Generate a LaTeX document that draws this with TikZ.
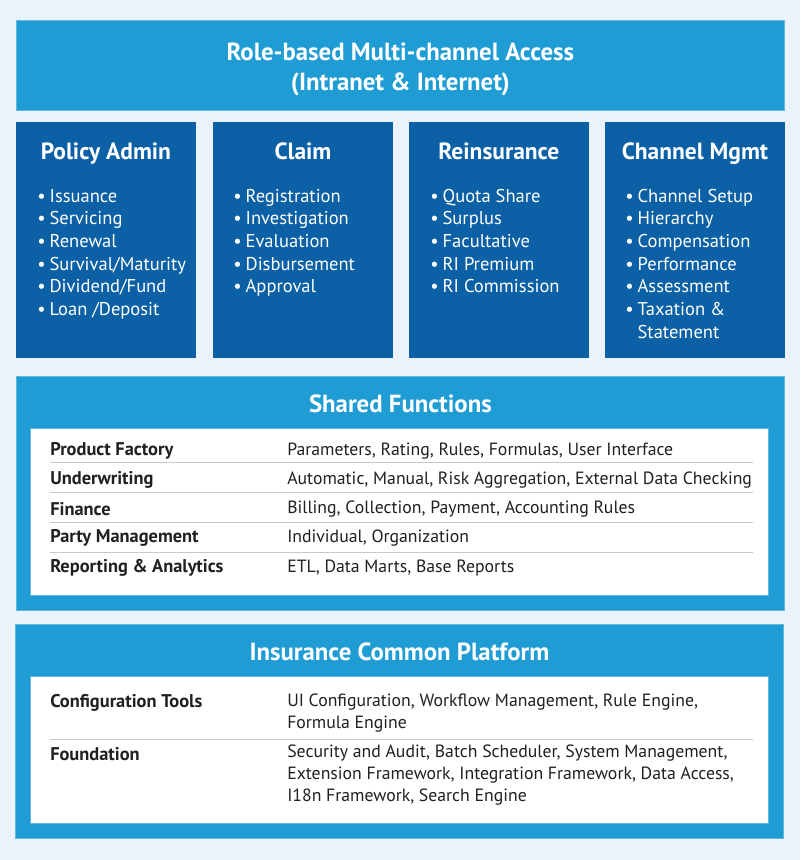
\documentclass[tikz,border=0pt]{standalone}
\usepackage{fontspec}
\setmainfont{PT Sans}
\usepackage{xcolor}
\usepackage{tikz}
\usetikzlibrary{positioning,calc}
\definecolor{PageBg}{HTML}{EAF2FB}
\definecolor{BannerBlue}{HTML}{1F9CD3}
\definecolor{ModuleBlue}{HTML}{0B60A6}
\definecolor{PanelEdge}{HTML}{62B6E2}
\definecolor{RuleGrey}{HTML}{C9C9C9}
\definecolor{TextDark}{HTML}{231F20}

\begin{document}
\begin{tikzpicture}[x=0.75pt,y=-0.75pt,
    banner/.style={fill=BannerBlue, draw=PanelEdge, line width=0.6pt, anchor=north west,
      inner sep=0pt, minimum width=576pt, text=white, align=center},
    module/.style={fill=ModuleBlue, anchor=north west, inner sep=0pt,
      minimum width=134.5pt, minimum height=177pt},
    modtitle/.style={anchor=base, text=white, font=\bfseries\fontsize{17.6}{20}\selectfont},
    sectitle/.style={anchor=base, text=white, font=\bfseries\fontsize{18.6}{21}\selectfont},
    modlist/.style={anchor=north west, inner sep=0pt, text=white,
      font=\fontsize{13.9}{17}\selectfont},
    panel/.style={fill=white, draw=PanelEdge, line width=0.6pt, anchor=north west,
      inner sep=0pt, minimum width=553.5pt},
    rowkey/.style={anchor=west, inner sep=0pt, text=TextDark, font=\bfseries\fontsize{13.8}{16}\selectfont},
    rowval/.style={anchor=west, inner sep=0pt, text=TextDark, font=\fontsize{13.3}{16}\selectfont},
    rowtext/.style={anchor=north west, inner sep=0pt, text=TextDark, align=left,
      font=\fontsize{13.3}{16.3}\selectfont},
    rule/.style={draw=RuleGrey, line width=0.6pt}]

  % page
  \fill[PageBg] (0,0) rectangle (800,860);

  % access banner
  \node[banner, minimum height=67.5pt] (access) at (16,20) {};
  \node[text=white, align=center, font=\bfseries\fontsize{18.6}{22}\selectfont]
    (accessTitle) at ($(access.center)+(0,4)$)
    {Role-based Multi-channel Access\\(Intranet \& Internet)};

  % business modules
  \node[module] (pa) at (16,122) {};
  \node[module] (cl) at (213,122) {};
  \node[module] (ri) at (409,122) {};
  \node[module] (cm) at (605,122) {};

  \node[modtitle] (paTitle) at ($(pa.north)+(0,37)$) {Policy Admin};
  \node[modtitle] (clTitle) at ($(cl.north)+(0,37)$) {Claim};
  \node[modtitle] (riTitle) at ($(ri.north)+(0,37)$) {Reinsurance};
  \node[modtitle] (cmTitle) at ($(cm.north)+(0,37)$) {Channel Mgmt};

  \node[modlist] (paList) at ($(pa.north west)+(21,64)$) {%
    \begin{tabular}{@{}l@{\hspace{3pt}}l@{}}
      \textbullet & Issuance\\
      \textbullet & Servicing\\
      \textbullet & Renewal\\
      \textbullet & Survival/Maturity\\
      \textbullet & Dividend/Fund\\
      \textbullet & Loan /Deposit
    \end{tabular}};
  \node[modlist] (clList) at ($(cl.north west)+(20,64)$) {%
    \begin{tabular}{@{}l@{\hspace{3pt}}l@{}}
      \textbullet & Registration\\
      \textbullet & Investigation\\
      \textbullet & Evaluation\\
      \textbullet & Disbursement\\
      \textbullet & Approval
    \end{tabular}};
  \node[modlist] (riList) at ($(ri.north west)+(21,64)$) {%
    \begin{tabular}{@{}l@{\hspace{3pt}}l@{}}
      \textbullet & Quota Share\\
      \textbullet & Surplus\\
      \textbullet & Facultative\\
      \textbullet & RI Premium\\
      \textbullet & RI Commission
    \end{tabular}};
  \node[modlist] (cmList) at ($(cm.north west)+(20,64)$) {%
    \begin{tabular}{@{}l@{\hspace{3pt}}l@{}}
      \textbullet & Channel Setup\\
      \textbullet & Hierarchy\\
      \textbullet & Compensation\\
      \textbullet & Performance\\
      \textbullet & Assessment\\
      \textbullet & Taxation \&\\
                  & Statement
    \end{tabular}};

  % shared functions
  \node[banner, minimum height=175.5pt] (shared) at (16,376) {};
  \node[sectitle] (sharedTitle) at ($(shared.north)+(0,36)$) {Shared Functions};
  \node[panel, minimum height=125.25pt] (sharedPanel) at (30,428) {};

  \node[rowkey] (pfKey) at (50,451) {Product Factory};
  \node[rowval] (pfVal) at (287,451) {Parameters, Rating, Rules, Formulas, User Interface};
  \node[rowkey] (uwKey) at (50,480) {Underwriting};
  \node[rowval] (uwVal) at (287,480) {Automatic, Manual, Risk Aggregation, External Data Checking};
  \node[rowkey] (fiKey) at (50,509) {Finance};
  \node[rowval] (fiVal) at (287,509) {Billing, Collection, Payment, Accounting Rules};
  \node[rowkey] (pmKey) at (50,538) {Party Management};
  \node[rowval] (pmVal) at (287,538) {Individual, Organization};
  \node[rowkey] (raKey) at (50,568) {Reporting \& Analytics};
  \node[rowval] (raVal) at (287,568) {ETL, Data Marts, Base Reports};

  \foreach \y in {462,492,522,552}
    \draw[rule] (50,\y) -- (753,\y);

  % common platform
  \node[banner, minimum height=160.5pt] (platform) at (15,624) {};
  \node[sectitle] (platformTitle) at ($(platform.north)+(0,36)$) {Insurance Common Platform};
  \node[panel, minimum height=110.25pt] (platformPanel) at (30,676) {};

  \node[rowkey] (ctKey) at (50,703) {Configuration Tools};
  \node[rowtext] (ctVal) at (287,694) {UI Configuration, Workflow Management, Rule Engine,\\Formula Engine};
  \draw[rule] (50,739) -- (753,739);
  \node[rowkey] (fdKey) at (50,754) {Foundation};
  \node[rowtext] (fdVal) at (287,745) {Security and Audit, Batch Scheduler, System Management,\\
    Extension Framework, Integration Framework, Data Access,\\I18n Framework, Search Engine};
\end{tikzpicture}
\end{document}
